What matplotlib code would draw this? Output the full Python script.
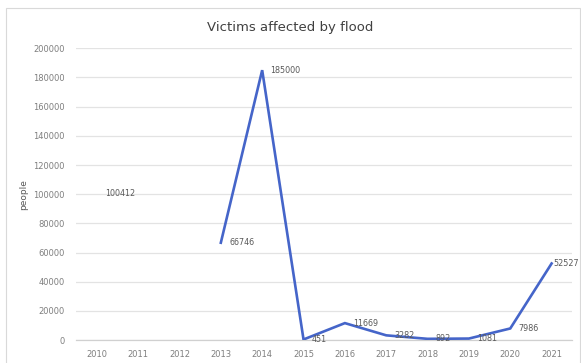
import numpy as np
import matplotlib
matplotlib.use("Agg")
import matplotlib.pyplot as plt
from matplotlib.patches import Rectangle

# --- data ---
years = ['2010', '2011', '2012', '2013', '2014', '2015',
         '2016', '2017', '2018', '2019', '2020', '2021']
victims = [100412, np.nan, np.nan, 66746, 185000, 451,
           11669, 3282, 892, 1081, 7986, 52527]
yticks = list(range(0, 200001, 20000))

# --- figure ---
fig = plt.figure(figsize=(5.81, 3.63), dpi=100)
ax = fig.add_axes([0.131, 0.063, 0.854, 0.804])

x = np.arange(len(years))
ax.plot(x, victims, color='#4565c9', lw=1.9, solid_joinstyle='miter', zorder=3)

for i, (xi, v) in enumerate(zip(x, victims)):
    if np.isnan(v):
        continue
    # last label squeezed in against the right edge, like the original
    off = 1.5 if i == len(victims) - 1 else 6
    ax.annotate(str(v), (xi, v), xytext=(off, 0), textcoords='offset points',
                ha='left', va='center', fontsize=5.8, color='#595959', zorder=4)

ax.set_xlim(-0.5, len(years) - 0.5)
ax.set_ylim(0, 200000)
ax.set_xticks(x)
ax.set_xticklabels(years)
ax.set_yticks(yticks)
ax.set_yticklabels([str(t) for t in yticks])
ax.tick_params(axis='both', length=0, labelsize=6, labelcolor='#7f7f7f')
ax.tick_params(axis='y', pad=8)
ax.tick_params(axis='x', pad=7)

ax.grid(axis='y', color='#e3e3e3', lw=0.9)
ax.set_axisbelow(True)
for s in ['top', 'right', 'left']:
    ax.spines[s].set_visible(False)
ax.spines['bottom'].set_color('#d0d0d0')
ax.spines['bottom'].set_linewidth(0.9)

ax.set_ylabel('people', fontsize=6.5, color='#595959', labelpad=4)
fig.text(0.5, 0.925, 'Victims affected by flood', ha='center', va='center',
         fontsize=9.5, color='#404040')

# light chart-area border
fig.patches.append(Rectangle((6 / 581, -0.01), 574 / 581, 1 - 8 / 363 + 0.01,
                             transform=fig.transFigure, fill=False,
                             edgecolor='#d9d9d9', lw=0.8))

fig.savefig('out.png', dpi=100)
